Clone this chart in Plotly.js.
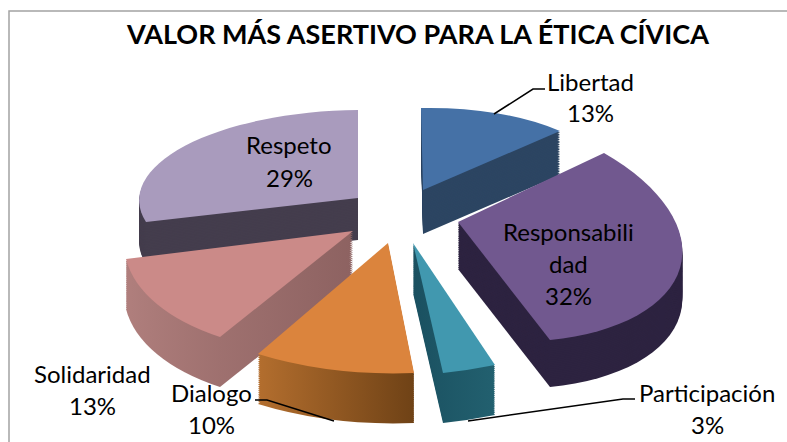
<!DOCTYPE html>
<html><head><meta charset="utf-8">
<script src="https://cdn.plot.ly/plotly-3.0.1.min.js"></script>
<style>html,body{margin:0;padding:0;background:#fff;overflow:hidden}</style>
</head><body><div id="chart" style="width:787px;height:442px"></div>
<script>
var categories = ["Libertad","Responsabilidad","Participación","Dialogo","Solidaridad","Respeto"];
var values = [13,32,3,10,13,29];
var topColors = ["#4571a6","#71588f","#4198af","#db843d","#cb8a88","#a99bbd"];
var wallColors = ["#2c4562","#2d2340","url(#wallTeal)","url(#wallOrange)","url(#wallRose)","#443d4d"];
var pulls = [0.2,0.2,0.2,0.2,0.2,0.2];
var labelLines = [["Libertad","13%"],["Responsabili","dad","32%"],["Participación","3%"],["Dialogo","10%"],["Solidaridad","13%"],["Respeto","29%"]];
var labelX = [590,568,707,211,92,289];
var labelY = [81,231,392,392,373,145];
// perspective placement of each exploded slice: centre corner, clockwise start corner, clockwise end corner
var apexes = [[423,190],[458,222],[413,243],[388,243],[353,231],[358,198]];
var starts = [[421,108],[604,153],[495,365],[414,373],[220,337],[146,222]];
var ends   = [[560,131],[550,340],[443,373],[258,354],[126,259],[358,110]];
var depths = [44,47,50,50,50,42];
var W=787,H=442,LINE=32,LAYERS=26;

var traces=[];
for(var n=0;n<=LAYERS;n++){
  traces.push({type:"pie",labels:categories,values:values,sort:false,direction:"clockwise",rotation:0,
    pull:pulls,textinfo:"none",hoverinfo:"skip",showlegend:false,domain:{x:[0,1],y:[0,1]},
    marker:{colors:n===LAYERS?topColors:["#2c4562","#2d2340","#1d5766","#8f5420","#a07270","#443d4d"],line:{width:0}}});
}
var annotations=[];
labelLines.forEach(function(lines,i){
  lines.forEach(function(t,j){
    annotations.push({xref:"paper",yref:"paper",x:labelX[i]/W,y:1-(labelY[i]+j*LINE)/H,text:t,showarrow:false,
      xanchor:"center",yanchor:"middle",font:{family:"Lato, sans-serif",size:24,color:"#000"}});
  });
});
function seg(pts,c,w){
  var s="";pts.forEach(function(p,i){s+=(i?"L":"M")+(p[0]/W)+" "+(1-p[1]/H)+" ";});
  return {type:"path",xref:"paper",yref:"paper",path:s,line:{color:c,width:w},layer:"above"};
}
var layout={width:W,height:H,margin:{l:0,r:0,t:0,b:0},paper_bgcolor:"#fff",
  title:{text:"VALOR MÁS ASERTIVO PARA LA ÉTICA CÍVICA",x:418/W,xanchor:"center",y:1-35/H,yanchor:"middle",
    font:{family:"Lato, sans-serif",size:27,color:"#000",weight:700}},
  annotations:annotations,
  shapes:[
    seg([[9,442],[9,11],[787,11]],"#a3a3a3",1.5),
    seg([[494,114],[533,89],[545,89]],"#000",1.5),
    seg([[255,400],[267,400],[334,421]],"#000",1.5),
    seg([[468,421],[623,399],[635,399]],"#000",1.5)
  ]};
function addGradient(svg,id,from,to){
  var ns="http://www.w3.org/2000/svg";
  var defs=svg.querySelector("defs")||svg.insertBefore(document.createElementNS(ns,"defs"),svg.firstChild);
  var g=document.createElementNS(ns,"linearGradient");g.setAttribute("id",id);
  [[0,from],[1,to]].forEach(function(s){
    var st=document.createElementNS(ns,"stop");st.setAttribute("offset",s[0]);st.setAttribute("stop-color",s[1]);g.appendChild(st);
  });
  defs.appendChild(g);
}
Plotly.newPlot("chart",traces,layout,{staticPlot:true,displayModeBar:false}).then(function(gd){
  var svg=gd.querySelector("svg.main-svg");
  addGradient(svg,"wallOrange","#b36e2e","#6f4216");
  addGradient(svg,"wallRose","#b07f7d","#8d6261");
  addGradient(svg,"wallTeal","#1a5060","#22606f");
  var total=values.reduce(function(a,b){return a+b;},0);
  var cd0=gd.calcdata[0][0],R=cd0.r,cx=cd0.cx,cy=cd0.cy;
  var acc=0,mats=values.map(function(v,i){
    var a0=acc/total*2*Math.PI; acc+=v; var a1=acc/total*2*Math.PI, mid=(a0+a1)/2;
    var px=cx+Math.sin(mid)*pulls[i]*R, py=cy-Math.cos(mid)*pulls[i]*R;
    var ax=R*Math.sin(a0),ay=-R*Math.cos(a0),bx=R*Math.sin(a1),by=-R*Math.cos(a1);
    var ux=starts[i][0]-apexes[i][0],uy=starts[i][1]-apexes[i][1],vx=ends[i][0]-apexes[i][0],vy=ends[i][1]-apexes[i][1];
    var det=ax*by-bx*ay;
    var m11=(ux*by-vx*ay)/det,m12=(vx*ax-ux*bx)/det,m21=(uy*by-vy*ay)/det,m22=(vy*ax-uy*bx)/det;
    return {a:m11,b:m21,c:m12,d:m22,e:apexes[i][0]-m11*px-m12*py,f:apexes[i][1]-m21*px-m22*py};
  });
  gd.querySelectorAll(".pielayer .trace").forEach(function(g,ti){
    var frac=1-ti/LAYERS;
    g.querySelectorAll(".slice").forEach(function(s,i){
      var m=mats[i];
      s.setAttribute("transform","matrix("+[m.a,m.b,m.c,m.d,m.e,m.f+depths[i]*frac].join(" ")+")");
      if(ti<LAYERS&&wallColors[i].indexOf("url")===0){s.querySelector("path").style.fill=wallColors[i];}
    });
  });
});
</script></body></html>
